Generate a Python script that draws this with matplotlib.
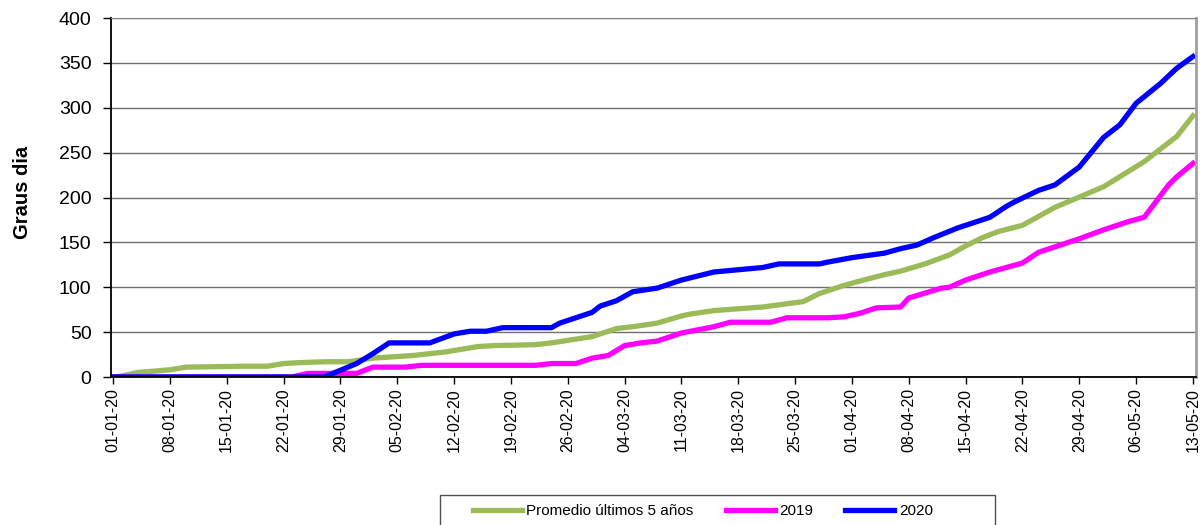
import matplotlib
matplotlib.use('Agg')
import matplotlib.pyplot as plt
import pandas as pd
from matplotlib.patches import Rectangle

plt.rcParams['font.family'] = ['Liberation Sans', 'DejaVu Sans']

# values (accumulated degree-days)
avg_dates = ['01-01-20', '02-01-20', '04-01-20', '08-01-20', '10-01-20', '17-01-20', '20-01-20',
             '22-01-20', '24-01-20', '27-01-20', '30-01-20', '02-02-20', '07-02-20', '11-02-20',
             '15-02-20', '17-02-20', '22-02-20', '24-02-20', '29-02-20', '03-03-20', '05-03-20',
             '08-03-20', '11-03-20', '12-03-20', '15-03-20', '21-03-20', '26-03-20', '28-03-20',
             '31-03-20', '02-04-20', '05-04-20', '07-04-20', '10-04-20', '13-04-20', '15-04-20',
             '17-04-20', '19-04-20', '22-04-20', '24-04-20', '26-04-20', '02-05-20', '07-05-20',
             '11-05-20', '13-05-20']
avg_vals = [0, 1, 5, 8, 11, 12, 12,
            15, 16, 17, 17, 21, 24, 28,
            34, 35, 36, 38, 45, 54, 56,
            60, 68, 70, 74, 78, 84, 93,
            102, 107, 114, 118, 126, 136, 146,
            155, 162, 169, 179, 189, 212, 240,
            268, 291]

y2019_dates = ['01-01-20', '23-01-20', '25-01-20', '31-01-20', '02-02-20', '06-02-20', '08-02-20',
               '22-02-20', '24-02-20', '27-02-20', '29-02-20', '02-03-20', '04-03-20', '06-03-20',
               '08-03-20', '11-03-20', '15-03-20', '17-03-20', '22-03-20', '24-03-20', '29-03-20',
               '31-03-20', '02-04-20', '04-04-20', '07-04-20', '08-04-20', '12-04-20', '13-04-20',
               '15-04-20', '18-04-20', '22-04-20', '24-04-20', '26-04-20', '29-04-20', '02-05-20',
               '05-05-20', '07-05-20', '10-05-20', '11-05-20', '13-05-20']
y2019_vals = [0, 0, 4, 4, 11, 11, 13,
              13, 15, 15, 21, 24, 35, 38,
              40, 49, 56, 61, 61, 66, 66,
              67, 71, 77, 78, 88, 99, 100,
              108, 117, 127, 139, 145, 154, 164,
              173, 178, 214, 223, 238]

y2020_dates = ['01-01-20', '27-01-20', '31-01-20', '02-02-20', '04-02-20', '09-02-20', '12-02-20',
               '14-02-20', '16-02-20', '18-02-20', '24-02-20', '25-02-20', '27-02-20', '29-02-20',
               '01-03-20', '03-03-20', '05-03-20', '08-03-20', '11-03-20', '15-03-20', '21-03-20',
               '23-03-20', '28-03-20', '29-03-20', '01-04-20', '05-04-20', '07-04-20', '09-04-20',
               '11-04-20', '14-04-20', '15-04-20', '18-04-20', '20-04-20', '21-04-20', '24-04-20',
               '26-04-20', '29-04-20', '02-05-20', '04-05-20', '06-05-20', '09-05-20', '11-05-20',
               '13-05-20']
y2020_vals = [0, 0, 15, 26, 38, 38, 48,
              51, 51, 55, 55, 60, 66, 72,
              79, 85, 95, 99, 108, 117, 122,
              126, 126, 128, 133, 138, 143, 147,
              155, 166, 169, 178, 190, 195, 208,
              214, 234, 267, 281, 305, 327, 344,
              357]

series_labels = ['Promedio últimos 5 años', '2019', '2020']
series_colors = ['#9BBB59', '#FF00FF', '#0000FF']

W, H = 1203, 525
fig = plt.figure(figsize=(W / 100, H / 100), dpi=100)
ax = fig.add_axes([111 / W, 1 - 377 / H, (1196 - 111) / W, (377 - 18) / H])

for dates, vals, lab, col in zip([avg_dates, y2019_dates, y2020_dates],
                                 [avg_vals, y2019_vals, y2020_vals],
                                 series_labels, series_colors):
    x = pd.to_datetime(dates, format='%d-%m-%y')
    ax.plot(x, vals, color=col, lw=3.8, label=lab, solid_joinstyle='round')

start = pd.Timestamp('2020-01-01')
end = pd.Timestamp('2020-05-13')
ax.set_xlim(start - pd.Timedelta(hours=6), end + pd.Timedelta(hours=9))
ax.set_ylim(0, 400)

ticks = pd.date_range(start, end, freq='7D')
ax.set_xticks(ticks)
ax.set_xticklabels([t.strftime('%d-%m-%y') for t in ticks], rotation=90, fontsize=11.5)
ax.set_yticks(range(0, 401, 50))
ax.tick_params(axis='y', labelsize=14, length=6, width=1, pad=8)
ax.tick_params(axis='x', length=5, width=1, pad=3)

ax.grid(axis='y', color='#707070', lw=1)
ax.set_axisbelow(True)
ax.spines['left'].set_color('black')
ax.spines['bottom'].set_color('black')
ax.spines['left'].set_linewidth(1.3)
ax.spines['bottom'].set_linewidth(1.3)
ax.spines['top'].set_color('#808080')
ax.spines['right'].set_color('#A0A0A0')
ax.spines['right'].set_linewidth(2)

ax.set_ylabel('Graus dia', fontsize=14.5, fontweight='bold')
ax.yaxis.set_label_coords(-0.073, 0.515)

# legend box at the bottom
fig.patches.append(Rectangle((440 / W, -0.01), (995 - 440) / W, (H - 495) / H + 0.01,
                             transform=fig.transFigure, fill=False, edgecolor='#505050', lw=1))
fig.legend(loc='center left', bbox_to_anchor=(473 / W, 1 - 511 / H), ncol=3, frameon=False,
           fontsize=11, handlelength=3.2, handletextpad=0.3, columnspacing=2.1,
           borderaxespad=0, borderpad=0)

fig.savefig('out.png', dpi=100)
